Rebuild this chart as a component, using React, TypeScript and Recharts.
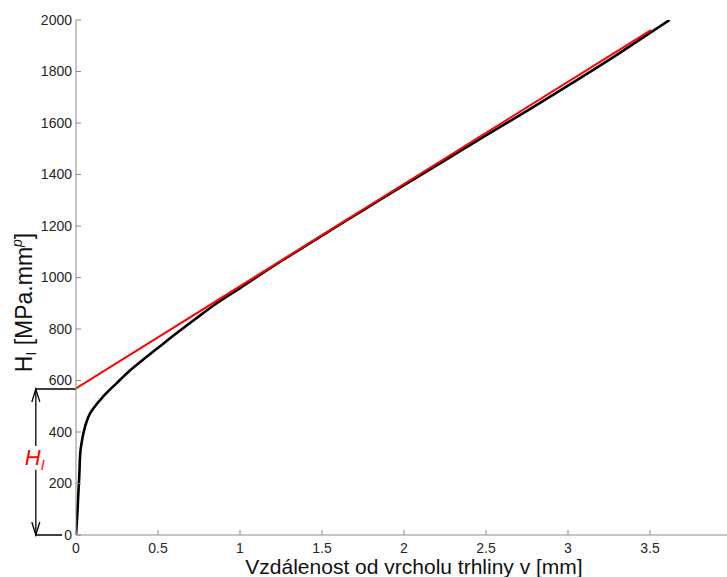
import { LineChart, Line, XAxis, YAxis, ReferenceLine } from "recharts";

// black curve: H_I vs distance from crack tip
const curveX = [0, 0.008, 0.015, 0.02, 0.025, 0.035, 0.045, 0.075, 0.116, 0.166, 0.248, 0.329, 0.431, 0.532, 0.634, 0.736, 0.858, 1.0, 1.25, 1.5, 1.75, 2.0, 2.25, 2.5, 2.75, 3.0, 3.25, 3.5, 3.62];
const curveY = [0, 80, 170, 230, 310, 360, 395, 458, 500, 538, 590, 639, 692, 743, 794, 843, 900, 959, 1063, 1163, 1261, 1359, 1455, 1552, 1647, 1745, 1845, 1950, 2000];

// red linear fit
const fitX = [0, 3.506];
const fitY = [569, 1961];

const xTicks = [0, 0.5, 1, 1.5, 2, 2.5, 3, 3.5];
const yTicks = [0, 200, 400, 600, 800, 1000, 1200, 1400, 1600, 1800, 2000];

const hLevel = 567;
const arrowX = -0.245;

const curve = curveX.map((x, i) => ({ x, y: curveY[i] }));
const fit = fitX.map((x, i) => ({ x, y: fitY[i] }));

const FONT = "'Liberation Sans', Arial, sans-serif";
const AXIS = "#8a8a8a";
const TICK = "#262626";

const BottomTick = (p: any) => (
  <g>
    <line x1={p.x} x2={p.x} y1={p.y} y2={p.y - 5} stroke={AXIS} />
    <text x={p.x} y={p.y + 18} textAnchor="middle" fontSize={14} fill={TICK} fontFamily={FONT}>
      {String(p.payload.value)}
    </text>
  </g>
);

const LeftTick = (p: any) => (
  <g>
    <line x1={p.x} x2={p.x + 5} y1={p.y} y2={p.y} stroke={AXIS} />
    <text x={p.x - 4} y={p.y} dy="0.35em" textAnchor="end" fontSize={14} fill={TICK} fontFamily={FONT}>
      {String(p.payload.value)}
    </text>
  </g>
);

const TopTick = (p: any) => <line x1={p.x} x2={p.x} y1={p.y} y2={p.y + 5} stroke={AXIS} />;
const RightTick = (p: any) => <line x1={p.x} x2={p.x - 5} y1={p.y} y2={p.y} stroke={AXIS} />;

const Arrow = (p: any) => {
  const x = p.x1;
  const top = Math.min(p.y1, p.y2);
  const bot = Math.max(p.y1, p.y2);
  const ly = bot - (bot - top) * 0.535;
  return (
    <g>
      <g stroke="#000" strokeWidth={1.3} fill="none">
        <line x1={x} x2={x} y1={top} y2={bot} />
        <polyline points={`${x - 4},${top + 13} ${x},${top} ${x + 4},${top + 13}`} />
        <polyline points={`${x - 4},${bot - 13} ${x},${bot} ${x + 4},${bot - 13}`} />
      </g>
      <rect x={x - 13} y={ly - 11} width={24} height={24} fill="#fff" />
      <text x={x - 11} y={ly + 8} fill="#ff0000" fontSize={22} fontStyle="italic" fontFamily={FONT}>
        H<tspan fontSize={14} dy={5}>I</tspan>
      </text>
    </g>
  );
};

const XLabel = (p: any) => {
  const vb = p.viewBox;
  return (
    <text x={vb.x + vb.width / 2 + 10} y={574} textAnchor="middle" fontSize={21} fill="#111" fontFamily={FONT}>
      Vzdálenost od vrcholu trhliny v [mm]
    </text>
  );
};

const YLabel = (p: any) => {
  const vb = p.viewBox;
  const cx = 32;
  const cy = vb.y + vb.height / 2 + 25;
  return (
    <text x={cx} y={cy} transform={`rotate(-90 ${cx} ${cy})`} textAnchor="middle" fontSize={23} fill="#111" fontFamily={FONT}>
      H<tspan fontSize={14} dy={4}>I</tspan>
      <tspan dy={-4}> [MPa.mm</tspan>
      <tspan fontSize={14} dy={-10} fontStyle="italic">p</tspan>
      <tspan dy={10}>]</tspan>
    </text>
  );
};

export default function App() {
  return (
    <div style={{ position: "absolute", left: 0, top: 0, width: 727, height: 577, overflow: "hidden", background: "#fff" }}>
      <LineChart width={740} height={577} margin={{ top: 20, right: 8, bottom: 0, left: 0 }}>
        <XAxis
          dataKey="x"
          type="number"
          domain={[0, 4]}
          ticks={xTicks}
          interval={0}
          height={42}
          tickSize={0}
          tickMargin={0}
          tickLine={false}
          stroke={AXIS}
          tick={BottomTick}
          label={<XLabel />}
          allowDataOverflow
        />
        <XAxis
          xAxisId="top"
          orientation="top"
          type="number"
          domain={[0, 4]}
          ticks={xTicks}
          interval={0}
          height={0}
          tickSize={0}
          tickMargin={0}
          tickLine={false}
          stroke={AXIS}
          tick={TopTick}
        />
        <YAxis
          dataKey="y"
          type="number"
          domain={[0, 2000]}
          ticks={yTicks}
          interval={0}
          width={76}
          tickSize={0}
          tickMargin={0}
          tickLine={false}
          stroke={AXIS}
          tick={LeftTick}
          label={<YLabel />}
          allowDataOverflow
        />
        <YAxis
          yAxisId="right"
          orientation="right"
          type="number"
          domain={[0, 2000]}
          ticks={yTicks}
          interval={0}
          width={0}
          tickSize={0}
          tickMargin={0}
          tickLine={false}
          stroke={AXIS}
          tick={RightTick}
        />
        <ReferenceLine
          segment={[{ x: -0.25, y: hLevel }, { x: 0, y: hLevel }]}
          stroke="#000"
          strokeWidth={1.5}
          ifOverflow="visible"
        />
        <ReferenceLine
          segment={[{ x: -0.25, y: 0 }, { x: -0.085, y: 0 }]}
          stroke="#000"
          strokeWidth={1.5}
          ifOverflow="visible"
        />
        <ReferenceLine
          segment={[{ x: arrowX, y: 0 }, { x: arrowX, y: hLevel }]}
          ifOverflow="visible"
          shape={Arrow}
        />
        <Line
          data={curve}
          dataKey="y"
          type="monotone"
          stroke="#000"
          strokeWidth={2.6}
          dot={false}
          isAnimationActive={false}
        />
        <Line
          data={fit}
          dataKey="y"
          type="linear"
          stroke="#ff0000"
          strokeWidth={2}
          dot={false}
          isAnimationActive={false}
        />
      </LineChart>
    </div>
  );
}
